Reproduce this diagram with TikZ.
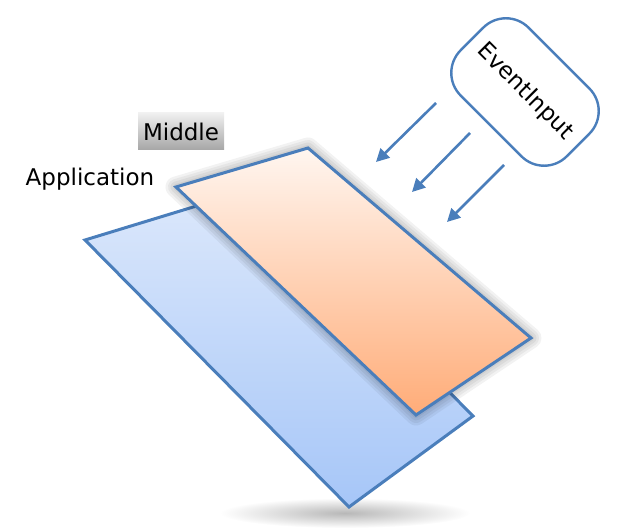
\documentclass[tikz,border=0pt]{standalone}
\usepackage{fontspec}
\setmainfont{DejaVu Sans}
\usetikzlibrary{arrows.meta}
\definecolor{edgeblue}{HTML}{4A7EBB}
\definecolor{bluetop}{HTML}{DCE8FB}
\definecolor{bluebot}{HTML}{A6C6F8}
\definecolor{orangetop}{HTML}{FFF6F0}
\definecolor{orangebot}{HTML}{FFAC78}
\tikzset{
  plane/.style={draw=edgeblue, line width=3pt, line join=miter},
  flowarrow/.style={draw=edgeblue, line width=2.6pt, -{Triangle[length=13pt,width=13pt]}},
  lbl/.style={font=\fontsize{23}{27}\selectfont, inner sep=0pt},
  glow/.style={draw=black, line join=round, opacity=0.05},
}
\begin{document}
\begin{tikzpicture}[x=1pt,y=-1pt]
\useasboundingbox (0,0) rectangle (634,529);
% ground shadow
\shade[inner color=black!28, outer color=white] (345,513) ellipse [x radius=125pt, y radius=15pt];
% blue plane
\shade[plane, top color=bluetop, bottom color=bluebot] (85,240) -- (249,190) -- (473,416) -- (349,507) -- cycle;
% orange plane glow shadow
\foreach \w in {6,11,16,21} {
  \draw[glow, line width=\w pt] (176,187) -- (308,148) -- (531,338) -- (416,415) -- cycle;
}
% orange plane
\shade[plane, top color=orangetop, bottom color=orangebot]
  (176,187) -- (308,148) -- (531,338) -- (416,415) -- cycle;
% labels
\shade[top color=black!6, bottom color=black!35] (138,113) rectangle (224,150);
\node[lbl] (mid) at (181,132) {Middle};
\node[lbl] (app) at (90,179) {Application};
% event input
\node[draw=edgeblue, line width=2.4pt, fill=white, rounded corners=32pt, minimum width=150pt, minimum height=96pt, rotate=-45, lbl] (ev) at (525,92) {EventInput};
% arrows
\coordinate (a1s) at (436,103); \coordinate (a1e) at (376,162);
\coordinate (a2s) at (470,133); \coordinate (a2e) at (412,192);
\coordinate (a3s) at (504,165); \coordinate (a3e) at (447,222);
\draw[flowarrow] (a1s) -- (a1e);
\draw[flowarrow] (a2s) -- (a2e);
\draw[flowarrow] (a3s) -- (a3e);
\end{tikzpicture}
\end{document}
